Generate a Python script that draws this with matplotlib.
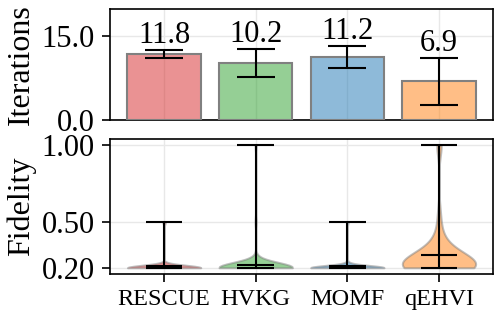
import numpy as np
import matplotlib.pyplot as plt

plt.rcParams['font.family'] = ['Liberation Serif', 'DejaVu Serif']
plt.rcParams['font.size'] = 22

# ---- data ----
methods = ["RESCUE", "HVKG", "MOMF", "qEHVI"]
iter_mean = [11.8, 10.2, 11.2, 6.9]
iter_std = [0.75, 2.5, 2.0, 4.2]

# fidelity samples (value levels and how often each appears)
rescue_lv = [0.2, 0.5]
rescue_n = [30, 1]
hvkg_lv = [0.2, 0.22, 0.25, 0.5, 1.0]
hvkg_n = [55, 6, 3, 1, 1]
momf_lv = [0.2, 0.22, 0.5]
momf_n = [40, 3, 1]
qehvi_lv = [0.2, 0.22, 0.25, 0.28, 0.32, 0.38, 0.45, 0.55, 1.0]
qehvi_n = [18, 6, 6, 4, 3, 2, 1, 1, 2]

fid_levels = [rescue_lv, hvkg_lv, momf_lv, qehvi_lv]
fid_counts = [rescue_n, hvkg_n, momf_n, qehvi_n]
bw = [0.3, 0.3, 0.3, 0.4]

colors = ["tab:red", "tab:green", "tab:blue", "tab:orange"]
x = np.arange(len(methods))

fig = plt.figure(figsize=(4.98, 3.13), dpi=100)
ax1 = fig.add_axes([0.221, 0.617, 0.769, 0.354])
ax2 = fig.add_axes([0.221, 0.125, 0.769, 0.431], sharex=ax1)

# ---- top: iterations ----
ax1.bar(x, iter_mean, width=0.8, color=colors, alpha=0.5, edgecolor="none", zorder=2)
ax1.bar(x, iter_mean, width=0.8, color="none", edgecolor="gray", linewidth=1.5, zorder=3)
ax1.errorbar(x, iter_mean, yerr=iter_std, fmt="none", ecolor="black",
             elinewidth=1.5, capsize=14, capthick=1.5, zorder=4)
for xi, m, s in zip(x, iter_mean, iter_std):
    ax1.annotate(f"{m:.1f}", (xi, m + s), xytext=(0, 0), textcoords="offset points",
                 ha="center", va="bottom", fontsize=22)
ax1.set_ylim(0, 19.8)
ax1.set_yticks([0, 15])
ax1.set_yticklabels(["0.0", "15.0"])
ax1.set_ylabel("Iterations", fontsize=23)
ax1.tick_params(axis="x", bottom=False, labelbottom=False)

# ---- bottom: fidelity ----
for xi, lv, n, b, c in zip(x, fid_levels, fid_counts, bw, colors):
    vp = ax2.violinplot([np.repeat(lv, n)], positions=[xi], widths=0.8,
                        showmeans=True, bw_method=b)
    for body in vp["bodies"]:
        body.set_facecolor(c)
        body.set_alpha(0.5)
        body.set_edgecolor("gray")
        body.set_linewidth(1.5)
    for k in ["cmeans", "cmins", "cmaxes", "cbars"]:
        vp[k].set_color("black")
        vp[k].set_linewidth(1.5)
ax2.set_yticks([0.2, 0.5, 1.0])
ax2.set_yticklabels(["0.20", "0.50", "1.00"])
ax2.set_xticks(x)
ax2.set_xticklabels(methods, fontsize=17.5)
ax2.set_ylabel("Fidelity", fontsize=23)

for ax in (ax1, ax2):
    ax.grid(True, color="#e8e8e8", linewidth=1, zorder=0)
    ax.set_axisbelow(True)
    for sp in ax.spines.values():
        sp.set_linewidth(1.2)
    ax.tick_params(width=1.2, length=6, pad=5)

fig.align_ylabels([ax1, ax2])
fig.savefig("out.png", dpi=100)
